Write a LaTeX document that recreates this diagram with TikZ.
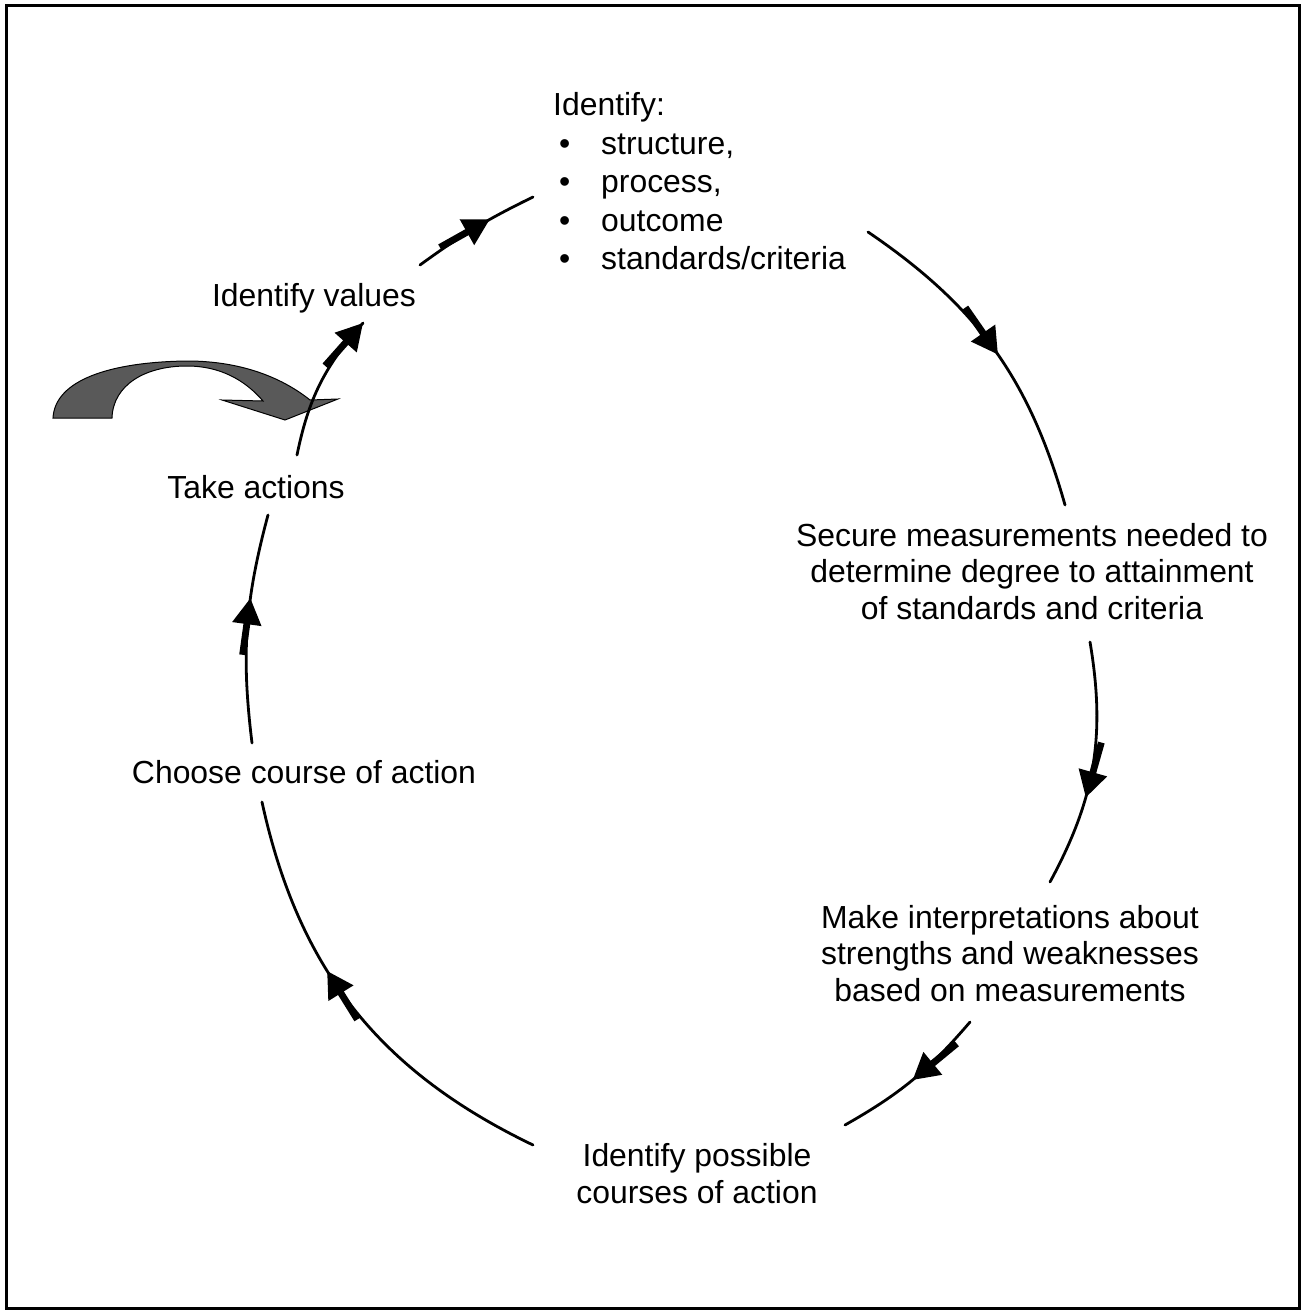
\documentclass[tikz,border=0pt]{standalone}
\usepackage{fontspec}
\setmainfont{Liberation Sans}
\usetikzlibrary{arrows.meta}
\usetikzlibrary{decorations.markings}

\newcommand{\listbullet}{\makebox[48pt][l]{\hspace{6pt}\textbullet}}

\tikzset{
  stage text/.style={font=\fontsize{31.9}{36.5}\selectfont, inner sep=0pt, align=center},
  cycle arc/.style={line width=2.8pt, line cap=round,
    decoration={markings, mark=at position #1 with {
        \fill (-57pt,-3.4pt) rectangle (-20pt,3.4pt);
        \arrow{Triangle[length=26pt,width=29pt]}}},
    postaction={decorate}},
  turn arrow/.style={draw=black, line width=1pt, fill=black!65},
}

\begin{document}
\begin{tikzpicture}[x=1pt,y=-1pt]
  \useasboundingbox (0,0) rectangle (1304,1313);
  \draw [line width=3pt] (6,6) rectangle (1299,1308);

  % the stages of the cycle (base = last line)
  \node [stage text, align=left, anchor=base west,
         font=\fontsize{31.9}{38.5}\selectfont] (aspects) at (553,270)
    {Identify:\\\listbullet structure,\\\listbullet process,\\
     \listbullet outcome\\\listbullet standards/criteria};
  \node [stage text, anchor=base] (values) at (314,306) {Identify values};
  \node [stage text, anchor=base] (measure) at (1032,619)
    {Secure measurements needed to\\determine degree to attainment\\of standards and criteria};
  \node [stage text, anchor=base] (interpret) at (1010,1001)
    {Make interpretations about\\strengths and weaknesses\\based on measurements};
  \node [stage text, anchor=base] (options) at (697,1203)
    {Identify possible\\courses of action};
  \node [stage text, anchor=base] (choose) at (304,783) {Choose course of action};
  \node [stage text, anchor=base] (act) at (256,498) {Take actions};

  % ends of the arcs between the stages
  \coordinate (p1) at (420,265);  \coordinate (p2) at (533,197);
  \coordinate (p3) at (868,232);  \coordinate (p4) at (1065,505);
  \coordinate (p5) at (1090,642); \coordinate (p6) at (1050,882);
  \coordinate (p7) at (970,1022); \coordinate (p8) at (845,1125);
  \coordinate (p9) at (533,1145); \coordinate (p10) at (262,802);
  \coordinate (p11) at (252,743); \coordinate (p12) at (268,515);
  \coordinate (p13) at (297,455); \coordinate (p14) at (363,323);

  % shaded turning arrow
  \path [turn arrow]
    (53,418) .. controls (55,380) and (110,362) .. (187,361)
    .. controls (245,361) and (285,380) .. (310,400)
    -- (338,399) -- (285,420) -- (222,400) -- (263,401)
    .. controls (245,380) and (220,366) .. (187,366)
    .. controls (145,366) and (113,385) .. (112,418) -- cycle;

  % the cycle
  \draw [cycle arc=0.63] (p1) to [bend left=5] (p2);
  \draw [cycle arc=0.52] (p3) to [bend left=20] (p4);
  \draw [cycle arc=0.63] (p5) to [bend left=19] (p6);
  \draw [cycle arc=0.5] (p7) to [bend left=10] (p8);
  \draw [cycle arc=0.6] (p9) to [bend left=26] (p10);
  \draw [cycle arc=0.63] (p11) to [bend left=11] (p12);
  \draw [cycle arc=0.999] (p13) to [bend left=15] (p14);

\end{tikzpicture}
\end{document}
